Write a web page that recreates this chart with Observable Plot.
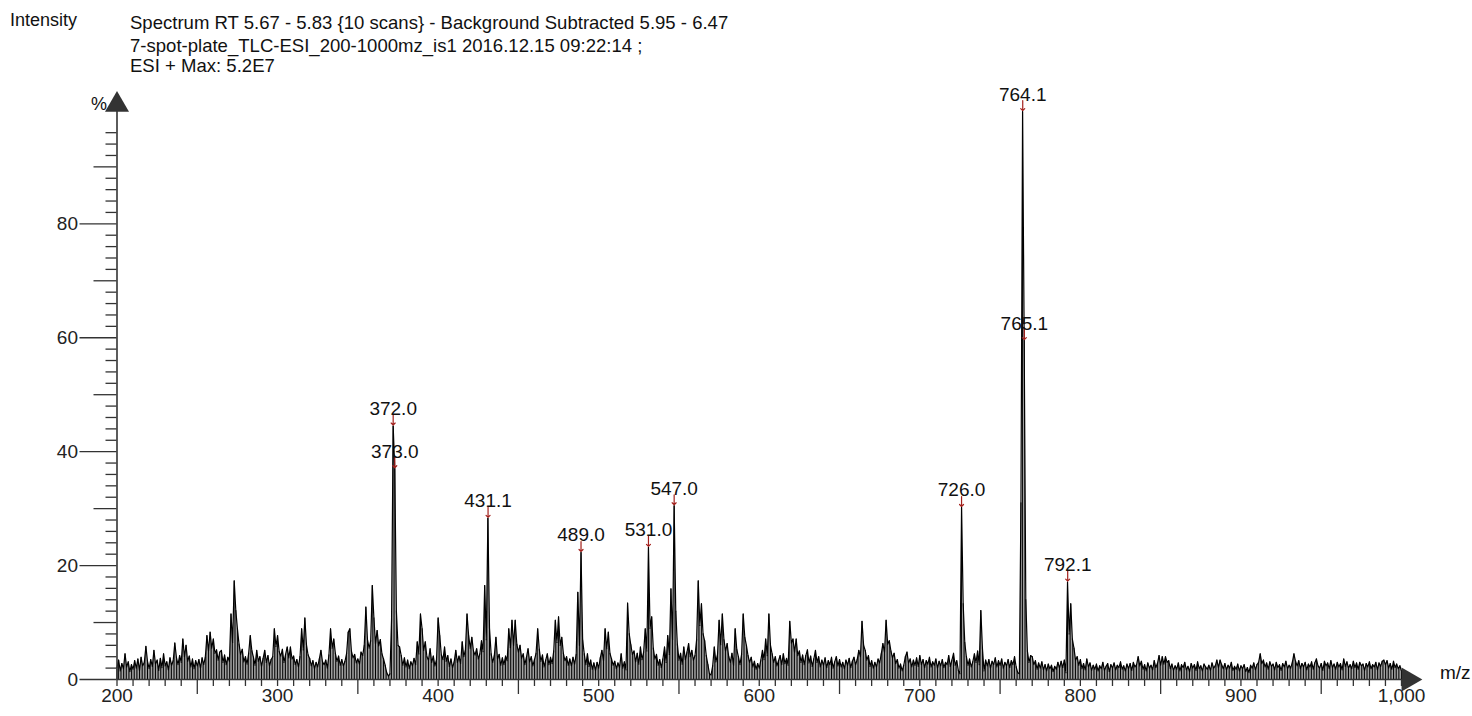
<!DOCTYPE html>
<html><head><meta charset="utf-8">
<script src="https://cdn.jsdelivr.net/npm/d3@7"></script>
<script src="https://cdn.jsdelivr.net/npm/@observablehq/plot@0.6"></script>
<style>
body{margin:0;background:#fff;}
#wrap{position:relative;width:1472px;height:716px;font-family:"Liberation Sans Narrow","Arial Narrow","Liberation Sans",Arial,sans-serif;color:#111;}
.t{position:absolute;white-space:nowrap;line-height:1;font-size:19px;transform-origin:0 0;}
.title{transform:scaleX(0.976);}
</style></head><body>
<div id="wrap">
  <div id="chart"></div>
  <div class="t" style="left:10px;top:11px;font-size:18px">Intensity</div>
  <div class="t title" style="left:130px;top:13px">Spectrum RT 5.67 - 5.83 {10 scans} - Background Subtracted 5.95 - 6.47</div>
  <div class="t title" style="left:130px;top:36px">7-spot-plate_TLC-ESI_200-1000mz_is1 2016.12.15 09:22:14 ;</div>
  <div class="t title" style="left:130px;top:56px">ESI + Max: 5.2E7</div>
  <div class="t" style="left:91px;top:95px;font-size:18px">%</div>
  <div class="t" style="left:1440px;top:663px;font-size:19px">m/z</div>
</div>
<script>
const mzStart = 200;
const intensity = [
2.1,3.4,1.5,2.8,1.9,4.5,2.2,3.1,1.4,2.6,
1.8,3.3,2.0,3.6,1.6,3.9,2.4,3.0,5.8,3.2,
1.9,3.5,2.3,5.1,2.7,3.4,1.6,3.7,2.1,4.5,
2.4,3.1,1.7,3.8,2.5,3.3,6.4,3.9,2.6,4.2,
3.0,7.1,4.0,6.0,3.2,4.1,2.2,3.6,1.9,3.3,
2.4,3.5,2.0,3.8,2.6,3.9,7.7,5.0,8.3,5.5,
7.1,4.6,5.2,3.4,4.8,5.1,3.0,4.3,2.6,3.9,
3.2,11.5,6.5,17.3,12.1,8.9,6.2,4.4,5.3,3.1,
4.0,2.7,4.6,7.7,5.0,3.9,2.5,5.1,3.2,4.0,
2.3,3.7,5.1,3.0,4.2,2.4,3.5,4.0,8.9,5.8,
7.7,4.9,4.1,5.3,3.0,4.4,5.7,3.8,5.7,3.6,
4.1,2.6,3.5,2.2,4.0,8.9,5.2,10.8,6.1,4.3,
3.7,2.4,3.3,1.9,3.0,2.2,3.6,5.1,3.1,2.6,
3.4,2.0,4.3,8.9,5.5,7.1,4.6,3.2,4.1,2.5,
3.5,2.4,3.2,4.6,8.3,8.9,5.0,3.8,4.4,2.9,
3.6,2.7,4.8,4.2,6.0,12.7,7.0,5.5,6.8,16.5,
10.8,6.3,8.6,5.9,7.0,4.5,3.6,2.5,1.2,0.6,
1.0,10.6,44.5,37.0,12.0,6.0,5.7,4.2,2.5,3.8,
2.2,3.4,1.9,3.1,2.4,3.7,2.6,6.6,4.5,11.5,
8.9,5.1,6.6,4.0,3.4,5.4,3.0,4.1,2.4,3.5,
10.8,7.7,4.3,3.5,5.7,3.2,4.2,2.3,3.6,2.1,
3.1,5.1,3.0,4.1,2.8,6.6,4.0,5.2,11.5,7.7,
5.5,7.4,5.0,4.3,5.4,3.6,4.5,6.8,4.9,16.5,
7.0,28.3,9.0,4.5,3.0,4.2,7.4,3.6,4.4,2.5,
3.8,2.6,4.1,3.3,8.9,5.6,10.4,6.0,10.4,6.2,
4.8,6.0,3.7,4.5,2.6,3.9,5.4,3.1,4.0,2.4,
3.5,4.6,8.9,5.3,3.2,4.3,2.2,3.4,4.5,2.6,
3.9,2.8,5.0,10.4,6.5,11.0,6.0,7.4,4.6,3.3,
4.0,2.5,3.6,2.4,3.9,2.7,4.4,15.3,6.0,22.3,
7.0,4.5,2.6,4.5,2.3,3.4,1.8,2.9,1.6,3.0,
2.0,3.8,5.1,3.3,8.9,5.4,8.3,4.6,3.6,2.5,
3.2,1.9,2.9,2.1,4.5,2.0,3.1,1.7,13.4,8.0,
6.1,4.4,5.0,3.1,4.6,2.7,5.7,3.5,4.8,8.9,
5.0,23.2,9.0,11.0,5.5,3.6,4.4,2.5,3.5,2.1,
3.6,5.7,3.0,7.7,4.4,15.9,7.0,30.5,12.0,6.2,
3.4,4.6,2.7,5.7,3.5,4.8,6.3,4.0,5.1,3.4,
4.2,7.0,17.3,9.5,13.3,8.0,6.8,4.2,2.6,1.0,
0.8,2.4,5.7,3.1,4.4,10.4,6.1,11.5,7.0,5.0,
6.3,4.0,3.0,4.6,2.5,8.9,5.3,4.0,2.6,4.4,
11.5,7.4,6.0,4.2,3.0,3.9,2.2,3.2,1.8,2.8,
2.0,3.4,5.1,3.5,7.1,4.2,11.5,6.0,4.5,3.0,
4.0,2.4,3.3,4.2,2.6,4.5,2.8,3.7,2.5,10.2,
6.4,7.1,4.8,7.1,4.2,5.0,3.0,4.3,2.6,4.2,
5.2,2.9,4.1,2.3,3.6,5.1,3.0,4.0,2.2,3.4,
2.5,3.8,2.1,3.3,2.6,3.9,2.0,3.1,4.0,2.4,
3.5,2.2,3.0,1.9,3.4,2.5,3.7,2.1,3.2,3.9,
2.6,3.5,5.1,4.0,10.2,6.0,5.1,3.4,4.2,2.3,
3.3,2.0,3.0,2.2,3.6,2.9,4.5,6.3,4.8,10.4,
6.2,6.8,5.0,3.8,4.6,2.8,3.5,2.0,2.7,1.5,
2.5,4.0,4.8,2.9,3.6,2.2,3.4,2.5,3.8,2.3,
4.2,2.6,3.5,2.1,3.3,2.7,3.9,2.2,3.1,2.5,
3.6,2.0,3.2,2.4,3.5,2.1,3.0,2.6,4.2,2.3,
3.4,4.6,2.5,3.3,1.6,1.0,30.2,13.3,6.5,4.0,
2.5,3.6,2.2,3.1,4.5,3.0,5.0,2.6,12.1,5.5,
1.5,3.4,2.4,3.5,2.0,3.2,2.6,3.8,2.2,3.3,
2.5,3.6,2.0,3.0,2.4,3.5,2.1,3.3,2.6,4.0,
2.2,1.2,1.0,31.0,99.7,59.5,14.0,5.0,3.0,4.2,
4.0,2.6,3.3,1.8,2.9,2.0,3.1,1.7,2.6,1.5,
2.7,1.9,2.5,1.4,2.3,1.8,3.0,2.0,3.2,2.1,
3.4,1.2,17.1,8.0,13.3,7.1,5.5,3.4,4.0,2.5,
3.5,1.9,2.8,1.7,3.6,2.2,2.9,1.6,2.5,1.8,
2.7,1.5,2.4,1.9,3.0,1.6,2.3,2.8,1.4,2.6,
2.0,2.9,1.7,2.5,2.1,3.1,1.8,2.4,1.5,2.7,
1.9,2.8,1.6,3.0,2.2,2.6,4.0,2.4,3.2,1.8,
2.6,1.5,2.9,2.0,2.5,1.7,3.3,2.1,2.8,4.2,
2.5,4.0,2.7,4.0,3.0,3.3,1.9,2.7,1.6,2.4,
1.8,2.9,1.5,2.6,2.1,3.0,1.7,2.3,1.4,2.8,
2.0,2.6,1.6,3.1,1.9,2.4,1.5,2.7,2.2,1.8,
2.5,1.6,2.9,2.0,2.4,3.4,2.1,3.4,2.6,1.9,
2.8,1.7,2.5,2.0,3.0,1.6,2.3,1.8,2.7,1.5,
2.4,1.9,2.6,1.4,2.1,1.2,2.5,2.0,2.9,1.7,
2.6,3.0,4.5,2.8,3.4,2.2,2.9,1.8,3.1,2.3,
2.7,1.7,3.0,2.1,2.6,1.6,2.8,2.2,3.2,1.9,
2.5,2.0,3.0,4.5,3.2,2.4,3.3,1.9,2.8,2.2,
3.0,1.7,2.7,2.2,3.1,1.8,2.9,3.6,2.4,2.0,
2.8,1.6,3.2,2.4,2.9,1.9,3.3,2.1,2.7,1.8,
3.0,2.2,2.8,1.7,3.6,2.3,3.1,2.0,2.6,1.9,
3.2,2.1,2.9,1.8,3.0,2.4,2.7,1.6,2.8,2.2,
3.1,1.9,2.6,2.2,3.0,1.7,2.9,2.3,3.2,3.4,
2.6,3.3,2.0,2.8,1.8,3.2,2.1,2.7,1.9,2.4,
1.5
];
const peakMz = [372.0, 373.0, 431.1, 489.0, 531.0, 547.0, 726.0, 764.1, 765.1, 792.1];
const peakIntensity = [44.5, 37.0, 28.3, 22.3, 23.2, 30.5, 30.2, 99.7, 59.5, 17.1];
const peakLabels = ["372.0", "373.0", "431.1", "489.0", "531.0", "547.0", "726.0", "764.1", "765.1", "792.1"];
const xMajorTicks = [200, 300, 400, 500, 600, 700, 800, 900, 1000];
const xTickLabels = ["200", "300", "400", "500", "600", "700", "800", "900", "1,000"];
const xMidTicks = [250, 350, 450, 550, 650, 750, 850, 950];
const xMinorTicks = d3.range(210, 1000, 10).filter(v => v % 50 !== 0);
const yMajorTicks = [0, 20, 40, 60, 80];
const yMidTicks = [10, 30, 50, 70, 90];
const yMinorTicks = d3.range(2, 97, 2).filter(v => v % 10 !== 0);

const spectrum = intensity.map((v, i) => ({mz: mzStart + i, v}));
const peaks = peakMz.map((m, i) => ({mz: m, v: peakIntensity[i], label: peakLabels[i]}));

const axisColor = "#333";
const chart = Plot.plot({
  width: 1472,
  height: 716,
  marginLeft: 116.5,
  marginRight: 71,
  marginTop: 109.4,
  marginBottom: 37,
  style: {fontFamily: '"Liberation Sans Narrow","Arial Narrow","Liberation Sans",Arial,sans-serif', fontSize: "19px", color: "#222", background: "transparent"},
  x: {domain: [200, 1000]},
  y: {domain: [0, 100]},
  marks: [
    Plot.ruleX(spectrum, {x: "mz", y1: 0, y2: "v", stroke: "#000", strokeWidth: 1, strokeOpacity: 1}),
    Plot.line(spectrum, {x: "mz", y: "v", stroke: "#000", strokeWidth: 1.2}),
    Plot.axisX(xMinorTicks, {tickSize: 7, tickFormat: () => "", label: null, stroke: axisColor, strokeWidth: 1.3}),
    Plot.axisX(xMidTicks, {tickSize: 15, tickFormat: () => "", label: null, stroke: axisColor, strokeWidth: 1.3}),
    Plot.axisX(xMajorTicks, {tickSize: 7, tickPadding: 2, tickFormat: d => xTickLabels[xMajorTicks.indexOf(d)], label: null, stroke: axisColor, strokeWidth: 1.3, fill: "#222"}),
    Plot.axisY(yMinorTicks, {tickSize: 11, tickFormat: () => "", label: null, stroke: axisColor, strokeWidth: 1.3}),
    Plot.axisY(yMidTicks, {tickSize: 23, tickFormat: () => "", label: null, stroke: axisColor, strokeWidth: 1.3}),
    Plot.axisY(yMajorTicks, {tickSize: 37, tickPadding: 2, label: null, stroke: axisColor, strokeWidth: 1.3, fill: "#222"}),
    Plot.ruleY([0], {x1: 200, x2: 1000, stroke: axisColor, strokeWidth: 1.6}),
    Plot.ruleX([200], {y1: 0, y2: 100, stroke: axisColor, strokeWidth: 1.6}),
    Plot.dot([1000], {x: d => d, y: 0, symbol: "triangle", rotate: 90, r: 8.9, dx: 7, fill: axisColor, stroke: "none"}),
    Plot.dot([100], {x: 200, y: d => d, symbol: "triangle", r: 8.9, dy: -5, fill: axisColor, stroke: "none"}),
    Plot.vector(peaks, {x: "mz", y: "v", length: 10, rotate: 180, anchor: "end", stroke: "#a3201c", strokeWidth: 1.2, dy: -1}),
    Plot.text(peaks, {x: "mz", y: "v", text: "label", dy: -11, lineAnchor: "bottom", fontSize: 19, fill: "#111"})
  ]
});
document.getElementById("chart").appendChild(chart);
</script>
</body></html>
